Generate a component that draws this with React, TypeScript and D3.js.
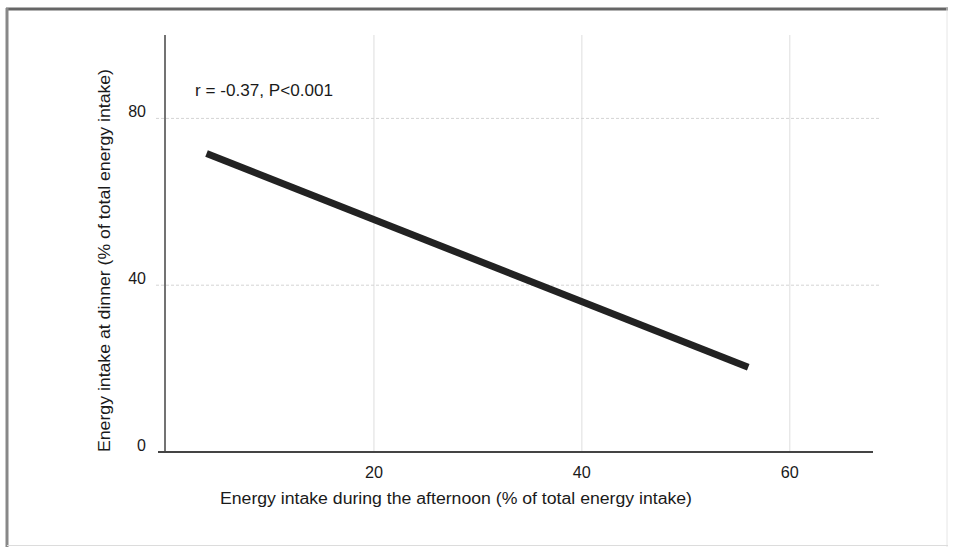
import React, { useEffect, useRef } from "react";
import * as d3 from "d3";

const xTicks = [20, 40, 60];
const yTicks = [0, 40, 80];
const fitLine = [
  { x: 3.9, y: 71.6 },
  { x: 56.0, y: 20.3 },
];
const statText = "r = -0.37, P<0.001";
const xTitle = "Energy intake during the afternoon (% of total energy intake)";
const yTitle = "Energy intake at dinner (% of total energy intake)";

const W = 957, H = 547;

const App = () => {
  const svgRef = useRef<SVGSVGElement>(null);

  useEffect(() => {
    const svg = d3.select(svgRef.current);
    svg.selectAll("*").remove();

    const x = d3.scaleLinear().domain([0, 68]).range([166, 873]);
    const y = d3.scaleLinear().domain([0, 100]).range([452, 35]);
    const font = "'Liberation Sans', Arial, sans-serif";

    svg.append("rect").attr("width", W).attr("height", H).attr("fill", "#fff");

    // outer frame
    svg.append("line").attr("x1", 6).attr("x2", 948).attr("y1", 9).attr("y2", 9)
      .attr("stroke", "#666").attr("stroke-width", 3);
    svg.append("line").attr("x1", 7).attr("x2", 7).attr("y1", 8).attr("y2", 547)
      .attr("stroke", "#888").attr("stroke-width", 3);
    svg.append("line").attr("x1", 947).attr("x2", 947).attr("y1", 8).attr("y2", 547)
      .attr("stroke", "#e6e6e6").attr("stroke-width", 1);
    svg.append("line").attr("x1", 7).attr("x2", 948).attr("y1", 545.5).attr("y2", 545.5)
      .attr("stroke", "#dcdcdc").attr("stroke-width", 1);

    // grid
    svg.append("g").selectAll("line").data(xTicks).join("line")
      .attr("x1", d => x(d)).attr("x2", d => x(d))
      .attr("y1", y(100)).attr("y2", y(0))
      .attr("stroke", "#dedede").attr("stroke-width", 1);
    svg.append("g").selectAll("line").data(yTicks.filter(d => d > 0)).join("line")
      .attr("x1", x(0) - 10).attr("x2", x(68) + 6)
      .attr("y1", d => y(d)).attr("y2", d => y(d))
      .attr("stroke", "#d4d4d4").attr("stroke-width", 1)
      .attr("stroke-dasharray", "3,2");

    // axes
    svg.append("line").attr("x1", x(0) - 1).attr("x2", x(0) - 1)
      .attr("y1", y(100)).attr("y2", y(0))
      .attr("stroke", "#444").attr("stroke-width", 1.5);
    svg.append("line").attr("x1", x(0) - 8).attr("x2", x(68))
      .attr("y1", y(0)).attr("y2", y(0))
      .attr("stroke", "#444").attr("stroke-width", 2);

    // tick labels
    svg.append("g").selectAll("text").data(xTicks).join("text")
      .attr("x", d => x(d)).attr("y", 478)
      .attr("text-anchor", "middle")
      .attr("font-family", font).attr("font-size", 16).attr("fill", "#1a1a1a")
      .attr("textLength", 18).attr("lengthAdjust", "spacingAndGlyphs")
      .text(d => d);
    svg.append("g").selectAll("text").data(yTicks).join("text")
      .attr("x", 146).attr("y", d => y(d) - 1)
      .attr("text-anchor", "end")
      .attr("font-family", font).attr("font-size", 16).attr("fill", "#1a1a1a")
      .text(d => d);

    // regression line
    svg.append("path")
      .datum(fitLine)
      .attr("d", d3.line<{ x: number; y: number }>().x(d => x(d.x)).y(d => y(d.y)))
      .attr("fill", "none").attr("stroke", "#222").attr("stroke-width", 7);

    // texts
    svg.append("text").attr("x", 195).attr("y", 96)
      .attr("font-family", font).attr("font-size", 16).attr("fill", "#1a1a1a")
      .attr("textLength", 138).attr("lengthAdjust", "spacingAndGlyphs")
      .text(statText);
    svg.append("text").attr("x", 220).attr("y", 504)
      .attr("font-family", font).attr("font-size", 16).attr("fill", "#1a1a1a")
      .attr("textLength", 472).attr("lengthAdjust", "spacingAndGlyphs")
      .text(xTitle);
    svg.append("text")
      .attr("transform", "translate(110,452) rotate(-90)")
      .attr("font-family", font).attr("font-size", 16).attr("fill", "#1a1a1a")
      .attr("textLength", 383).attr("lengthAdjust", "spacingAndGlyphs")
      .text(yTitle);
  }, []);

  return (
    <svg ref={svgRef} width={W} height={H}
      style={{ position: "absolute", left: 0, top: 0, display: "block" }} />
  );
};

export default App;
